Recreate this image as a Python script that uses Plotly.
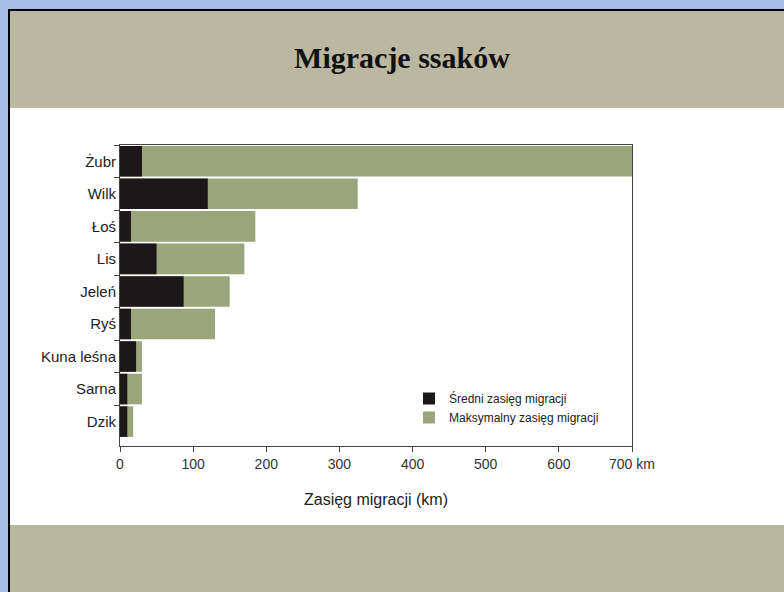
import plotly.graph_objects as go

# ---- data ----
categories = ["Żubr", "Wilk", "Łoś", "Lis", "Jeleń", "Ryś", "Kuna leśna", "Sarna", "Dzik"]
avg_range = [30, 120, 15, 50, 87, 15, 22, 10, 10]          # Średni zasięg migracji (km)
max_range = [700, 325, 185, 170, 150, 130, 30, 30, 18]     # Maksymalny zasięg migracji (km)
x_tick_values = [0, 100, 200, 300, 400, 500, 600, 700]
x_tick_labels = ["0", "100", "200", "300", "400", "500", "600", "700 km"]

# ---- layout geometry (pixels) ----
W, H = 784, 592
L, R, T, B = 120, 632, 145, 446


def px_x(x):
    return (x - L) / (R - L)


def px_y(y):
    return (B - y) / (B - T)


BLUE = "#A6BEE6"
TAN_TOP = "#BAB8A0"
TAN_BOTTOM = "#B7B79D"
GREEN = "#9AA57C"
DARK = "#1C1718"
FONT = "Arial, Liberation Sans, sans-serif"

fig = go.Figure()
fig.add_trace(go.Bar(
    y=categories, x=max_range, orientation="h", name="Maksymalny zasięg migracji",
    marker=dict(color=GREEN, line=dict(width=0)), legendrank=2,
))
fig.add_trace(go.Bar(
    y=categories, x=avg_range, orientation="h", name="Średni zasięg migracji",
    marker=dict(color=DARK, line=dict(width=0)), legendrank=1,
))

shapes = [
    # slide black frame
    dict(type="rect", xref="paper", yref="paper", layer="below",
         x0=px_x(8), x1=px_x(800), y0=px_y(9), y1=px_y(610),
         fillcolor="#000000", line=dict(width=0)),
    # header band
    dict(type="rect", xref="paper", yref="paper", layer="below",
         x0=px_x(10), x1=px_x(800), y0=px_y(11), y1=px_y(108),
         fillcolor=TAN_TOP, line=dict(width=0)),
    # white body
    dict(type="rect", xref="paper", yref="paper", layer="below",
         x0=px_x(10), x1=px_x(800), y0=px_y(108), y1=px_y(525),
         fillcolor="#FFFFFF", line=dict(width=0)),
    # footer band
    dict(type="rect", xref="paper", yref="paper", layer="below",
         x0=px_x(10), x1=px_x(800), y0=px_y(525), y1=px_y(610),
         fillcolor=TAN_BOTTOM, line=dict(width=0)),
]

fig.update_layout(
    width=W, height=H,
    margin=dict(l=L, r=W - R, t=T, b=H - B, pad=0),
    paper_bgcolor=BLUE,
    plot_bgcolor="rgba(0,0,0,0)",
    barmode="overlay",
    bargap=0.06,
    shapes=shapes,
    font=dict(family=FONT, color="#222222"),
    title=dict(
        text="<b>Migracje ssaków</b>",
        x=402 / W, xanchor="center",
        y=(H - 57) / H, yanchor="middle", yref="container",
        font=dict(family="Liberation Serif, Times New Roman, serif", size=30, color="#111111"),
    ),
    legend=dict(
        x=px_x(409), y=px_y(384), xanchor="left", yanchor="top",
        bgcolor="rgba(0,0,0,0)", font=dict(size=12, color="#222222"),
        tracegroupgap=0,
    ),
    xaxis=dict(
        range=[0, 700], tickmode="array", tickvals=x_tick_values, ticktext=x_tick_labels,
        showline=True, linecolor="#444444", linewidth=1, mirror=True,
        ticks="outside", ticklen=5, tickcolor="#444444",
        showgrid=False, zeroline=False, layer="below traces",
        tickfont=dict(size=14, color="#333333"),
        title=dict(text="Zasięg migracji (km)", font=dict(size=16, color="#222222"), standoff=23),
    ),
    yaxis=dict(
        type="category", categoryorder="array", categoryarray=categories,
        range=[8.75, -0.5],
        showline=True, linecolor="#444444", linewidth=1, mirror=True,
        ticks="outside", ticklen=5, tickcolor="#444444", tickson="boundaries",
        showgrid=False, zeroline=False, layer="below traces",
        tickfont=dict(size=15, color="#222222"),
    ),
)

fig.write_html(
    "out.html",
    config={"displayModeBar": False},
    post_script="document.body.style.margin='0';document.body.style.padding='0';"
                "document.body.style.background='" + BLUE + "';",
)
